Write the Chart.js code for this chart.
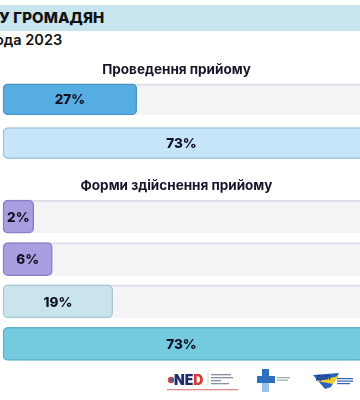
<!DOCTYPE html>
<html>
<head>
<meta charset="utf-8">
<script src="https://cdn.jsdelivr.net/npm/chart.js@4"></script>
<style>
  html, body { margin:0; padding:0; background:#ffffff; }
  body { width:360px; height:400px; overflow:hidden; position:relative; font-family: Inter, "Noto Sans", sans-serif; }
  .band { position:absolute; left:0; top:5px; width:360px; height:26px; background:#c8e4ed; }
  .h1 { position:absolute; left:-1px; top:8px; font-size:15px; font-weight:800; color:#111; letter-spacing:0.1px; white-space:nowrap; }
  .h2 { position:absolute; left:-5px; top:31px; font-size:14.5px; font-weight:600; color:#111; white-space:nowrap; }
  #c1 { position:absolute; left:0; top:56px; }
  #c2 { position:absolute; left:0; top:172px; }
  .logos { position:absolute; left:0; top:364px; width:360px; height:36px; }
</style>
</head>
<body>
<div class="band"></div>
<div class="h1">У ГРОМАДЯН</div>
<div class="h2">ода 2023</div>
<canvas id="c1" width="360" height="109"></canvas>
<canvas id="c2" width="360" height="193"></canvas>
<svg class="logos" width="360" height="36" viewBox="0 0 360 36">
  <circle cx="171" cy="16" r="3.2" fill="#d7433c"/>
  <circle cx="172" cy="16" r="2" fill="#3c66b0"/>
  <text x="174" y="21" font-family="Inter, sans-serif" font-weight="900" font-size="14" fill="#1f2b6b">NE<tspan fill="#d23a35">D</tspan></text>
  <line x1="208" y1="9" x2="208" y2="22" stroke="#bbb" stroke-width="0.6"/>
  <rect x="211" y="10" width="20" height="1.3" fill="#8a8fa6"/>
  <rect x="211" y="13" width="22" height="1.3" fill="#8a8fa6"/>
  <rect x="211" y="16" width="10" height="1.3" fill="#8a8fa6"/>
  <rect x="211" y="19" width="18" height="1.3" fill="#8a8fa6"/>
  <rect x="167" y="25" width="71" height="1.3" fill="#e08a8a"/>
  <path d="M262 5 h7 v7 h6 v7 h-6 v9 h-7 v-9 h-5 v-7 h5z" fill="#2f6fc0"/>
  <path d="M262 19 h7 v9 h-7z" fill="#9cc0e8"/>
  <rect x="277" y="13" width="13" height="1.2" fill="#9aa"/>
  <rect x="277" y="15.5" width="11" height="1.2" fill="#9aa"/>
  <path d="M313 11 l26 -2 l-8 14 l-6 2z" fill="#2f62b8"/>
  <path d="M317 17 l22 -5 l-6 8z" fill="#f2d02b"/>
  <text x="316" y="16" font-family="Inter, sans-serif" font-weight="900" font-size="6" fill="#1d3f8f">ДОП</text>
  <rect x="337" y="14" width="16" height="1.2" fill="#2f62b8"/>
  <rect x="337" y="16.5" width="16" height="1.2" fill="#2f62b8"/>
  <rect x="337" y="19" width="13" height="1.2" fill="#2f62b8"/>
</svg>
<script>
// ---- data ----
const title1 = 'Проведення прийому';
const categories1 = ['Так', 'Ні'];
const values1 = [27, 73];

const title2 = 'Форми здійснення прийому';
const categories2 = ['Форма 1', 'Форма 2', 'Форма 3', 'Форма 4'];
const values2 = [2, 6, 19, 73];

const trackValue = 100;

// ---- styles ----
const colors1 = ['#56ade2', '#c6e5f8'];
const borders1 = ['#4996c8', '#a3c6db'];
const colors2 = ['#a79fe0', '#a79fe0', '#c9e4ec', '#74cbe0'];
const borders2 = ['#8a7fcb', '#8a7fcb', '#a8c8d2', '#5cb1c5'];

const labelPlugin = {
  id: 'barLabels',
  afterDatasetsDraw(chart) {
    const ctx = chart.ctx;
    const meta = chart.getDatasetMeta(1);
    const ds = chart.data.datasets[1];
    ctx.save();
    ctx.font = '800 13.5px Inter, "Noto Sans", sans-serif';
    ctx.fillStyle = '#111122';
    ctx.textAlign = 'center';
    ctx.textBaseline = 'middle';
    meta.data.forEach((bar, i) => {
      const right = Math.min(bar.x, chart.width);
      const cx = (bar.base + right) / 2;
      ctx.fillText(ds.data[i] + '%', cx, bar.y + 1);
    });
    ctx.restore();
  }
};

function makeChart(id, title, cats, vals, bg, bd, xmin, base, thick, titlePad) {
  return new Chart(document.getElementById(id), {
    type: 'bar',
    data: {
      labels: cats,
      datasets: [
        {
          data: cats.map(() => trackValue),
          base: base,
          backgroundColor: '#f4f4f7',
          borderColor: '#dedbea',
          borderWidth: { top: 2, left: 0, right: 0, bottom: 0 },
          borderSkipped: false,
          borderRadius: { topLeft: 6, bottomLeft: 6, topRight: 0, bottomRight: 0 },
          barThickness: thick,
          grouped: false,
          order: 2,
          clip: false
        },
        {
          data: vals,
          base: base,
          backgroundColor: bg,
          borderColor: bd,
          borderWidth: 1.5,
          borderSkipped: false,
          borderRadius: 5,
          barThickness: thick,
          grouped: false,
          order: 1,
          clip: false
        }
      ]
    },
    options: {
      indexAxis: 'y',
      responsive: false,
      animation: false,
      devicePixelRatio: 1,
      layout: { padding: { left: 3, right: 10, top: 0, bottom: 0 } },
      scales: {
        x: { display: false, min: xmin, max: 70 },
        y: { display: false }
      },
      plugins: {
        legend: { display: false },
        tooltip: { enabled: false },
        title: {
          display: true,
          text: title,
          color: '#16162a',
          font: { family: 'Inter, "Noto Sans", sans-serif', size: 13.5, weight: '700', lineHeight: 1 },
          padding: titlePad
        }
      }
    },
    plugins: [labelPlugin]
  });
}

makeChart('c1', title1, categories1, values1, colors1, borders1, 0, 0, 31, { top: 7, bottom: 1 });
makeChart('c2', title2, categories2, values2, colors2, borders2, -4.6, -4.6, 33, { top: 7, bottom: 3 });
</script>
</body>
</html>
